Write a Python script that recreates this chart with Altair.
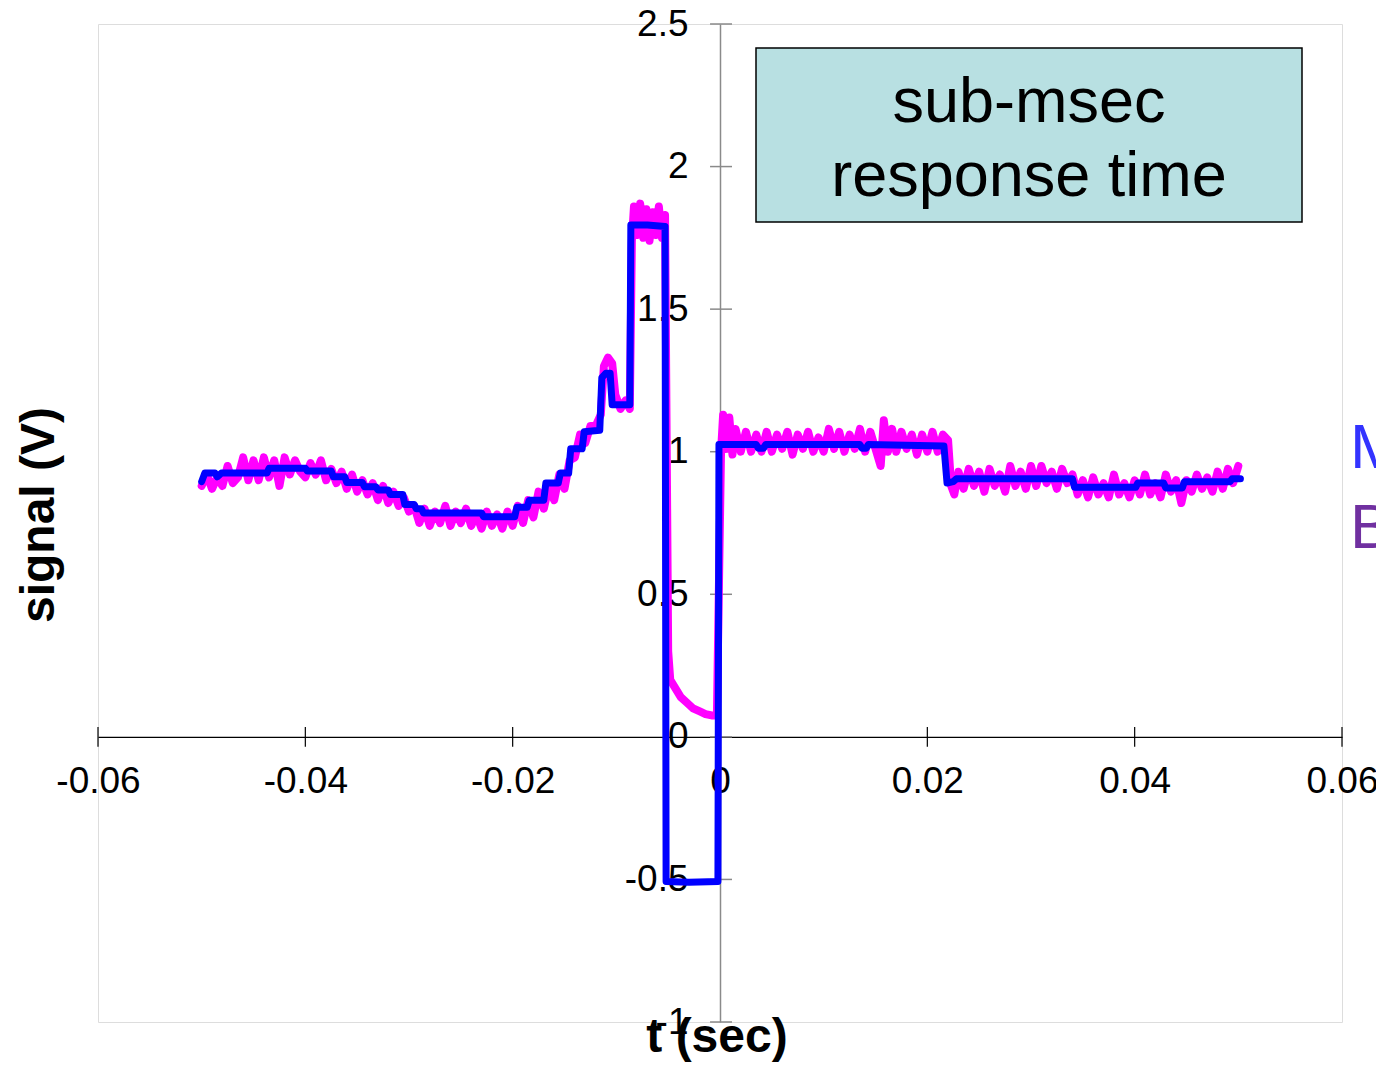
import altair as alt
import pandas as pd

# ---- data ----
mag_t = [
    -0.0500, -0.0495, -0.0490, -0.0485, -0.0480, -0.0475, -0.0470, -0.0465, -0.0460, -0.0455,
    -0.0450, -0.0445, -0.0440, -0.0435, -0.0430, -0.0425, -0.0420, -0.0415, -0.0410, -0.0405,
    -0.0400, -0.0395, -0.0390, -0.0385, -0.0380, -0.0375, -0.0370, -0.0365, -0.0360, -0.0355,
    -0.0350, -0.0345, -0.0340, -0.0335, -0.0330, -0.0325, -0.0320, -0.0315, -0.0310, -0.0305,
    -0.0300, -0.0295, -0.0290, -0.0285, -0.0280, -0.0275, -0.0270, -0.0265, -0.0260, -0.0255,
    -0.0250, -0.0245, -0.0240, -0.0235, -0.0230, -0.0225, -0.0220, -0.0215, -0.0210, -0.0205,
    -0.0200, -0.0195, -0.0190, -0.0185, -0.0180, -0.0175, -0.0170, -0.0165, -0.0160, -0.0155,
    -0.0150, -0.0145, -0.0140, -0.0135, -0.0130, -0.0125, -0.0120, -0.0115, -0.0112, -0.0108,
    -0.0104, -0.0101, -0.0096, -0.0091, -0.0087, -0.0085, -0.0083, -0.0080, -0.0077, -0.0074,
    -0.0071, -0.0068, -0.0065, -0.0062, -0.0059, -0.0056, -0.0053, -0.0050, -0.0048, -0.0043,
    -0.0038, -0.0032, -0.0026, -0.0020, -0.0014, -0.0008, -0.0003, 0.0001, 0.0003, 0.0006,
    0.0009, 0.0012, 0.0015, 0.0020, 0.0025, 0.0030, 0.0035, 0.0040, 0.0045, 0.0050,
    0.0055, 0.0060, 0.0065, 0.0070, 0.0075, 0.0080, 0.0085, 0.0090, 0.0095, 0.0100,
    0.0105, 0.0110, 0.0115, 0.0120, 0.0125, 0.0130, 0.0135, 0.0140, 0.0145, 0.0150,
    0.0155, 0.0158, 0.0162, 0.0166, 0.0170, 0.0175, 0.0180, 0.0185, 0.0190, 0.0195,
    0.0200, 0.0205, 0.0210, 0.0215, 0.0220, 0.0223, 0.0226, 0.0230, 0.0235, 0.0240,
    0.0245, 0.0250, 0.0255, 0.0260, 0.0265, 0.0270, 0.0275, 0.0280, 0.0285, 0.0290,
    0.0295, 0.0300, 0.0305, 0.0310, 0.0315, 0.0320, 0.0325, 0.0330, 0.0335, 0.0340,
    0.0345, 0.0350, 0.0355, 0.0360, 0.0365, 0.0370, 0.0375, 0.0380, 0.0385, 0.0390,
    0.0395, 0.0400, 0.0405, 0.0410, 0.0415, 0.0420, 0.0425, 0.0430, 0.0435, 0.0440,
    0.0445, 0.0450, 0.0455, 0.0460, 0.0465, 0.0470, 0.0475, 0.0480, 0.0485, 0.0490,
    0.0495, 0.0500,
]
mag_v = [
    0.88, 0.92, 0.87, 0.91, 0.88, 0.95, 0.89, 0.91, 0.98, 0.90,
    0.97, 0.90, 0.98, 0.91, 0.97, 0.88, 0.98, 0.92, 0.97, 0.93,
    0.91, 0.96, 0.92, 0.97, 0.90, 0.94, 0.89, 0.93, 0.87, 0.92,
    0.86, 0.90, 0.85, 0.89, 0.83, 0.88, 0.82, 0.86, 0.81, 0.84,
    0.79, 0.81, 0.75, 0.80, 0.74, 0.79, 0.75, 0.81, 0.74, 0.79,
    0.75, 0.80, 0.74, 0.78, 0.73, 0.79, 0.74, 0.78, 0.73, 0.79,
    0.74, 0.81, 0.75, 0.83, 0.77, 0.86, 0.80, 0.88, 0.83, 0.92,
    0.87, 0.97, 0.98, 1.06, 1.03, 1.09, 1.09, 1.13, 1.30, 1.33,
    1.31, 1.20, 1.15, 1.18, 1.15, 1.74, 1.86, 1.76, 1.87, 1.75,
    1.85, 1.74, 1.84, 1.76, 1.86, 1.75, 1.83, 0.30, 0.20, 0.17,
    0.14, 0.12, 0.10, 0.09, 0.08, 0.075, 0.075, 1.00, 1.13, 1.01,
    1.12, 0.99, 1.08, 1.00, 1.07, 1.00, 1.06, 1.00, 1.07, 1.00,
    1.06, 1.01, 1.07, 0.99, 1.06, 1.01, 1.07, 1.00, 1.05, 1.00,
    1.08, 1.01, 1.07, 1.00, 1.06, 1.01, 1.08, 1.00, 1.07, 1.01,
    0.95, 1.11, 1.00, 1.08, 1.00, 1.07, 1.01, 1.06, 0.99, 1.06,
    1.00, 1.07, 1.00, 1.06, 1.04, 0.88, 0.85, 0.93, 0.87, 0.94,
    0.88, 0.93, 0.86, 0.94, 0.88, 0.92, 0.86, 0.95, 0.88, 0.93,
    0.87, 0.95, 0.88, 0.95, 0.89, 0.93, 0.87, 0.94, 0.89, 0.92,
    0.85, 0.90, 0.84, 0.91, 0.85, 0.89, 0.84, 0.92, 0.85, 0.89,
    0.84, 0.90, 0.85, 0.92, 0.85, 0.89, 0.84, 0.92, 0.86, 0.90,
    0.82, 0.90, 0.86, 0.92, 0.87, 0.91, 0.86, 0.93, 0.87, 0.94,
    0.89, 0.95,
]

blue_t = [
    -0.0500, -0.0497, -0.0487, -0.0485, -0.0481, -0.0437, -0.0435, -0.0400, -0.0398, -0.0375,
    -0.0373, -0.0362, -0.0360, -0.0345, -0.0343, -0.0332, -0.0330, -0.0320, -0.0318, -0.0306,
    -0.0304, -0.0295, -0.0293, -0.0288, -0.0286, -0.0230, -0.0228, -0.0198, -0.0196, -0.0186,
    -0.0184, -0.0170, -0.0168, -0.0156, -0.0154, -0.0146, -0.0144, -0.0133, -0.0131, -0.0116,
    -0.0114, -0.0110, -0.0106, -0.0104, -0.0087, -0.0086, -0.0070, -0.0053, -0.0052, -0.0030,
    -0.0002, -0.0001, 0.0035, 0.0037, 0.0042, 0.0044, 0.0135, 0.0137, 0.0141, 0.0143,
    0.0216, 0.0219, 0.0225, 0.0228, 0.0340, 0.0342, 0.0401, 0.0403, 0.0428, 0.0430,
    0.0446, 0.0448, 0.0492, 0.0494, 0.0502,
]
blue_v = [
    0.895, 0.925, 0.925, 0.912, 0.925, 0.925, 0.942, 0.942, 0.932, 0.932,
    0.912, 0.912, 0.892, 0.892, 0.877, 0.877, 0.866, 0.866, 0.850, 0.850,
    0.815, 0.815, 0.800, 0.800, 0.785, 0.785, 0.772, 0.772, 0.805, 0.805,
    0.830, 0.830, 0.890, 0.890, 0.925, 0.925, 1.010, 1.010, 1.070, 1.075,
    1.260, 1.275, 1.275, 1.165, 1.165, 1.795, 1.795, 1.790, -0.507, -0.510,
    -0.507, 1.025, 1.025, 1.012, 1.012, 1.025, 1.025, 1.012, 1.012, 1.025,
    1.020, 0.890, 0.895, 0.905, 0.905, 0.875, 0.875, 0.890, 0.890, 0.873,
    0.873, 0.895, 0.895, 0.905, 0.905,
]

x_ticks = [-0.06, -0.04, -0.02, 0, 0.02, 0.04, 0.06]
y_ticks = [-1, -0.5, 0, 0.5, 1, 1.5, 2, 2.5]

FONT = "Liberation Sans"
W, H = 1244, 998
X_DOM = [-0.06, 0.06]
Y_DOM = [-1, 2.5]

mag_df = pd.DataFrame({"t": mag_t, "v": mag_v, "i": list(range(len(mag_t)))})
blue_df = pd.DataFrame({"t": blue_t, "v": blue_v, "i": list(range(len(blue_t)))})

xs = alt.Scale(domain=X_DOM, nice=False, zero=False)
ys = alt.Scale(domain=Y_DOM, nice=False, zero=False)

X_OFF = -(H - H * 2.5 / 3.5)   # move x axis from bottom edge up to v = 0
Y_OFF = -(W / 2)               # move y axis from left edge right to t = 0

x_axis = alt.Axis(
    orient="bottom", offset=X_OFF, values=x_ticks,
    labelExpr="'' + datum.value", labelFont=FONT, labelFontSize=37, labelColor="black",
    labelPadding=27, ticks=False, tickSize=0, domainColor="black", domainWidth=1.2,
    grid=False, title=None, labelFlush=False, labelOverlap=False,
)
y_axis = alt.Axis(
    orient="left", offset=Y_OFF, values=y_ticks,
    labelExpr="'' + datum.value", labelFont=FONT, labelFontSize=37, labelColor="black",
    labelPadding=32, ticks=False, tickSize=0, domainColor="#8a8a8a", domainWidth=1.5,
    grid=False, title=None, labelFlush=False, labelOverlap=False, labelBaseline="middle",
)

xt_df = pd.DataFrame({"t": x_ticks, "lo": [-0.035] * len(x_ticks), "hi": [0.035] * len(x_ticks)})
yt_df = pd.DataFrame({"v": y_ticks, "lo": [-0.00096] * len(y_ticks), "hi": [0.00116] * len(y_ticks)})

xtick_rules = alt.Chart(xt_df).mark_rule(color="black", strokeWidth=1.2).encode(
    x=alt.X("t:Q", scale=xs, axis=x_axis),
    y=alt.Y("lo:Q", scale=ys, axis=y_axis),
    y2="hi:Q",
)
ytick_rules = alt.Chart(yt_df).mark_rule(color="#8a8a8a", strokeWidth=1.5).encode(
    y=alt.Y("v:Q", scale=ys, axis=y_axis),
    x=alt.X("lo:Q", scale=xs, axis=x_axis),
    x2="hi:Q",
)

magenta = alt.Chart(mag_df).mark_line(
    color="#ff00ff", strokeWidth=8, strokeCap="round", strokeJoin="round"
).encode(
    x=alt.X("t:Q", scale=xs, axis=x_axis),
    y=alt.Y("v:Q", scale=ys, axis=y_axis),
    order="i:Q",
)

blue = alt.Chart(blue_df).mark_line(
    color="#0000ff", strokeWidth=7, strokeCap="round", strokeJoin="round"
).encode(
    x=alt.X("t:Q", scale=xs, axis=x_axis),
    y=alt.Y("v:Q", scale=ys, axis=y_axis),
    order="i:Q",
)

one = pd.DataFrame({"k": [0]})

box = alt.Chart(one).mark_rect(fill="#b8e0e2", stroke="black", strokeWidth=1.5).encode(
    x=alt.value(658), x2=alt.value(1204), y=alt.value(24), y2=alt.value(198)
)
box_t1 = alt.Chart(one).mark_text(
    text="sub-msec", font=FONT, fontSize=63, color="black", align="center", baseline="alphabetic"
).encode(x=alt.value(931), y=alt.value(98))
box_t2 = alt.Chart(one).mark_text(
    text="response time", font=FONT, fontSize=63, color="black", align="center", baseline="alphabetic"
).encode(x=alt.value(931), y=alt.value(172))

ytitle = alt.Chart(one).mark_text(
    text="signal (V)", font=FONT, fontSize=48, fontWeight="bold", color="black",
    align="center", baseline="alphabetic", angle=270,
).encode(x=alt.value(-44), y=alt.value(491))
xtitle = alt.Chart(one).mark_text(
    text="t (sec)", font=FONT, fontSize=48, fontWeight="bold", color="black",
    align="center", baseline="alphabetic",
).encode(x=alt.value(619), y=alt.value(1028))

leg_m = alt.Chart(one).mark_text(
    text="M", font=FONT, fontSize=63, color="#3333ff", align="left", baseline="alphabetic"
).encode(x=alt.value(1252), y=alt.value(444))
leg_b = alt.Chart(one).mark_text(
    text="B", font=FONT, fontSize=63, color="#7030a0", align="left", baseline="alphabetic"
).encode(x=alt.value(1252), y=alt.value(524))

chart = alt.layer(
    xtick_rules, ytick_rules, magenta, blue, box, box_t1, box_t2, ytitle, xtitle, leg_m, leg_b
).properties(
    width=W, height=H,
    padding={"left": 90, "top": 16, "right": 34, "bottom": 40},
    autosize=alt.AutoSizeParams(type="none"),
).configure_view(stroke="#8a8a8a", strokeWidth=1.5).configure(background="white")

chart.save("out.html", embed_options={"renderer": "svg", "actions": False})
